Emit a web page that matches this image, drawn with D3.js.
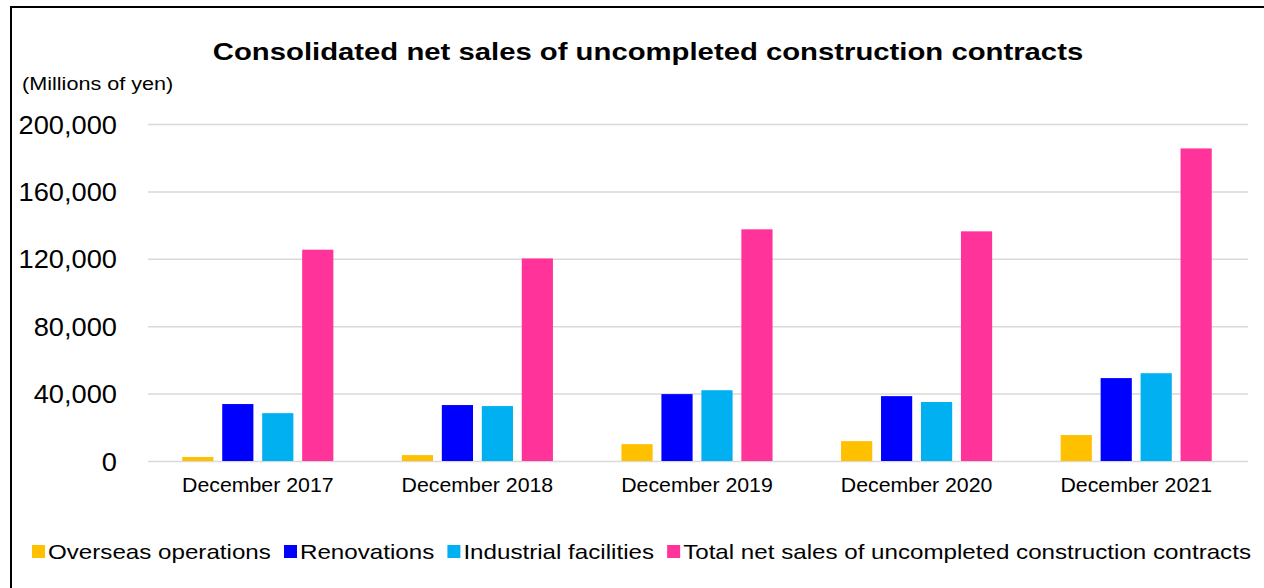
<!DOCTYPE html>
<html>
<head>
<meta charset="utf-8">
<script src="https://d3js.org/d3.v7.min.js"></script>
<style>
  body { margin: 0; background: #fff; }
  svg { display: block; font-family: "Liberation Sans", Arial, sans-serif; }
</style>
</head>
<body>
<svg width="1264" height="588"></svg>
<script>
// chart data
const periods = ["December 2017", "December 2018", "December 2019", "December 2020", "December 2021"];
const seriesNames = ["Overseas operations", "Renovations", "Industrial facilities",
  "Total net sales of uncompleted construction contracts"];
const overseas   = [2400, 3500, 10000, 11800, 15400];
const renovations = [33800, 33200, 39700, 38500, 49200];
const industrial = [28400, 32600, 42000, 35000, 52100];
const total      = [125400, 120200, 137500, 136300, 185500];
const yTicks = [0, 40000, 80000, 120000, 160000, 200000];
const colors = ["#FFC000", "#0000FF", "#00B0F0", "#FF3399"];

const values = [overseas, renovations, industrial, total];
const data = [];
periods.forEach((p, i) => {
  seriesNames.forEach((s, j) => data.push({ period: p, series: s, value: values[j][i] }));
});

const svg = d3.select("svg");

// stretch a text horizontally, the source picture is wider than the font
function widen(sel, k) {
  sel.each(function() {
    const w = this.getComputedTextLength();
    d3.select(this).attr("textLength", w * k).attr("lengthAdjust", "spacingAndGlyphs");
  });
}

// outer frame (runs off the right and bottom edges)
svg.append("rect")
  .attr("x", 11).attr("y", 7)
  .attr("width", 1270).attr("height", 600)
  .attr("fill", "none").attr("stroke", "#000").attr("stroke-width", 2);

svg.append("text")
  .attr("x", 648).attr("y", 60)
  .attr("text-anchor", "middle")
  .attr("font-weight", "bold").attr("font-size", 24)
  .text("Consolidated net sales of uncompleted construction contracts")
  .call(widen, 1.22);

svg.append("text")
  .attr("x", 22).attr("y", 90)
  .attr("font-size", 18)
  .text("(Millions of yen)")
  .call(widen, 1.2);

const x0 = d3.scaleBand().domain(periods).range([148, 1246])
  .paddingInner(0.312).paddingOuter(0.156);
const x1 = d3.scaleBand().domain(seriesNames).range([0, x0.bandwidth()])
  .paddingInner(0.22).paddingOuter(0);
const y = d3.scaleLinear().domain([0, 200000]).range([461, 124]);
const color = d3.scaleOrdinal(seriesNames, colors);

// gridlines + value labels
const yAxis = svg.append("g")
  .attr("transform", "translate(148,0)")
  .call(d3.axisLeft(y).tickValues(yTicks).tickSize(-1100).tickFormat(d3.format(",")));
yAxis.select(".domain").remove();
yAxis.selectAll(".tick line").attr("stroke", "#d9d9d9").attr("stroke-width", 1.5);
yAxis.selectAll(".tick text")
  .attr("x", -31).attr("dy", "0.36em")
  .attr("font-size", 25).attr("fill", "#000")
  .attr("font-family", "Liberation Sans, Arial, sans-serif")
  .call(widen, 1.09);

// bars
svg.append("g").selectAll("rect")
  .data(data)
  .join("rect")
  .attr("x", d => x0(d.period) + x1(d.series))
  .attr("width", x1.bandwidth())
  .attr("y", d => y(d.value))
  .attr("height", d => y(0) - y(d.value))
  .attr("fill", d => color(d.series));

// category labels
const xAxis = svg.append("g")
  .attr("transform", "translate(0,461)")
  .call(d3.axisBottom(x0).tickSize(0));
xAxis.select(".domain").remove();
xAxis.selectAll(".tick text")
  .attr("y", 31).attr("dy", 0)
  .attr("font-size", 20).attr("fill", "#000")
  .attr("font-family", "Liberation Sans, Arial, sans-serif")
  .call(widen, 1.065);

// legend
const legend = svg.append("g");
const items = legend.selectAll("g").data(seriesNames).join("g");
items.append("rect")
  .attr("width", 13).attr("height", 13)
  .attr("y", 545)
  .attr("fill", d => color(d));
items.append("text")
  .attr("x", 16).attr("y", 559)
  .attr("font-size", 21)
  .text(d => d)
  .call(widen, 1.15);

const widths = [];
items.each(function() { widths.push(16 + +d3.select(this).select("text").attr("textLength")); });
const legStart = 32, legEnd = 1251;
const gap = (legEnd - legStart - d3.sum(widths)) / (widths.length - 1);
let cx = legStart;
items.attr("transform", (d, i) => {
  const t = `translate(${cx},0)`;
  cx += widths[i] + gap;
  return t;
});
</script>
</body>
</html>
